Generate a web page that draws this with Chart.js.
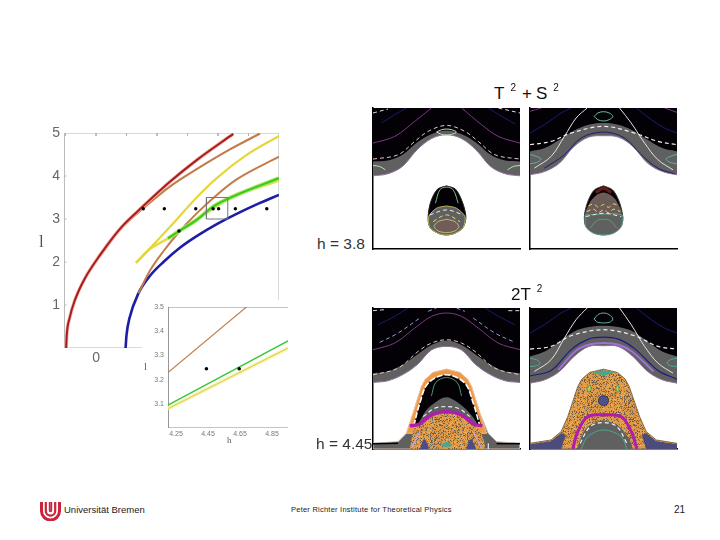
<!DOCTYPE html>
<html><head><meta charset="utf-8">
<script src="https://cdn.jsdelivr.net/npm/chart.js@4"></script>
<style>
html,body{margin:0;padding:0;background:#fff;width:720px;height:540px;overflow:hidden}
canvas{position:absolute;display:block}
.t{position:absolute;font-family:"Liberation Sans",Arial,sans-serif;color:#111;white-space:nowrap;line-height:1}
.t sup{font-size:10px;line-height:0;vertical-align:baseline;position:relative;top:-8px;margin:0 6px}
.s{font-family:"Liberation Serif",serif;color:#555}
</style></head><body>
<canvas id="main" style="left:30px;top:125px;width:255px;height:250px" width="255" height="250"></canvas>
<canvas id="inset" style="left:142px;top:300px;width:150px;height:150px;background:#fff" width="150" height="150"></canvas>
<canvas id="tl" style="left:372px;top:107px;width:149px;height:143px" width="149" height="143"></canvas>
<canvas id="tr" style="left:529px;top:107px;width:149px;height:143px" width="149" height="143"></canvas>
<canvas id="bl" style="left:372px;top:307px;width:149px;height:143px" width="149" height="143"></canvas>
<canvas id="br" style="left:529px;top:307px;width:149px;height:143px" width="149" height="143"></canvas>

<div class="t" style="left:494px;top:85px;font-size:17px">T<sup>2</sup>+<span style="margin-left:4px">S</span><sup>2</sup></div>
<div class="t" style="left:511px;top:286px;font-size:17px">2T<sup>2</sup></div>
<div class="t" style="left:317px;top:236px;font-size:15.5px;color:#333">h = 3.8</div>
<div class="t" style="left:316px;top:436px;font-size:15.5px;color:#333">h = 4.45</div>
<div class="t s" style="left:39px;top:233px;font-size:17px">l</div>
<div class="t s" style="left:144px;top:362px;font-size:10px">l</div>
<div class="t s" style="left:227px;top:436px;font-size:9px">h</div>
<div class="t" style="left:64px;top:505px;font-size:9.5px;color:#222">Universität Bremen</div>
<div class="t" style="left:291px;top:506px;font-size:7.5px;letter-spacing:.23px;color:#222">Peter Richter Institute for Theoretical Physics</div>
<div class="t" style="left:674px;top:505px;font-size:10px;color:#222">21</div>
<svg style="position:absolute;left:40px;top:501px" width="21" height="20" viewBox="0 0 21 20" fill="none" stroke="#c8243a">
<path d="M1.5 1V10A9 9 0 0 0 19.5 10V1" stroke-width="3"/><path d="M5.8 1V10A4.7 4.7 0 0 0 15.2 10V1" stroke-width="2.2"/><path d="M9.6 1V9.5A.9 .9 0 0 0 11.4 9.5V1" stroke-width="1.6"/>
</svg>

<script>
/* ---------- main parameter diagram, values in (h, l) ---------- */
const mainXRange=[-1.05,6], mainYRange=[0,5];
const mainXTicks=[0], mainYTicks=[1,2,3,4,5];
const mainTopMarks=[-1,0,1,2,3,4,5], mainLeftMarks=[1,2,3,4];
const redCurve=[[-.98,0],[-.96,.3],[-.865,.7],[-.7,1.1],[-.38,1.6],[.13,2.16],[.82,2.8],[1.55,3.3],[2.43,3.87],[3.3,4.37],[4.5,4.98]];
const upperBrown=[[.13,2.14],[.82,2.78],[1.55,3.25],[2.43,3.76],[3.3,4.16],[4.39,4.62],[5.38,4.99]];
const yellowUpper=[[1.31,1.98],[1.77,2.32],[2.43,2.82],[3.3,3.5],[3.96,3.95],[4.94,4.49],[6,4.93]];
const yellowLower=[[1.31,1.98],[1.77,2.3],[2.36,2.55],[3.3,2.98],[4.39,3.48],[6,3.89]];
const greenCurve=[[2.36,2.55],[2.7,2.71],[3.3,2.98],[3.85,3.29],[4.61,3.56],[6,3.95]];
const lowerBrown=[[1.39,1.27],[1.77,1.8],[2.21,2.25],[2.7,2.68],[3.3,3.13],[3.96,3.56],[4.61,3.92],[6,4.45]];
const blueCurve=[[.97,0],[1,.3],[1.1,.7],[1.39,1.27],[1.77,1.68],[2.21,2],[2.75,2.33],[3.3,2.6],[3.96,2.88],[4.61,3.12],[5.27,3.34],[6,3.56]];
const mainDots=[[1.55,3.24],[2.24,3.24],[3.27,3.24],[3.84,3.24],[4.02,3.24],[4.57,3.24],[5.6,3.24],[2.72,2.72]];
const zoomBox=[[3.62,3],[4.32,3],[4.32,3.5],[3.62,3.5],[3.62,3]];
const mainFrame=[[-1.05,0],[6,0],[6,5],[-1.05,5],[-1.05,0]];
/* ---------- inset ---------- */
const insetXRange=[4.2,4.95], insetYRange=[3,3.5];
const insetXTicks=[4.25,4.45,4.65,4.85], insetYTicks=[3.1,3.2,3.3,3.4,3.5];
const insetBrown=[[4.2,3.229],[4.69,3.5]];
const insetGreen=[[4.2,3.095],[4.95,3.36]];
const insetYellow=[[4.2,3.08],[4.95,3.33]];
const insetDots=[[4.44,3.245],[4.645,3.245]];
const insetFrame=[[4.95,3.5],[4.2,3.5],[4.2,3],[4.95,3]];
/* ---------- phase-space panels; arbitrary section units ---------- */
const secX=[25,69,113,157,201,245,289,333,377,421,465];
const tlLower=[228,222,200,150,116,105,116,150,200,222,228];
const tlUpper=[185,182,165,128,103,92,103,128,165,182,185];
const trLower=[225,215,190,140,112,108,112,140,190,215,225];
const trUpper=[155,145,120,92,75,70,75,92,120,145,155];
const blLower=[248,243,225,195,150,140,150,195,225,243,248];
const blUpper=[220,215,195,165,135,122,135,165,195,215,220];
const brLower=[250,240,215,170,140,138,140,170,215,240,250];
const brUpper=[170,155,125,95,82,78,82,95,125,155,170];

const tlWhiteA=[[25,40],[70,28]], tlWhiteB=[[400,25],[465,40]];
const tlBlueA=[[50,70],[90,45],[125,25]], tlBlueB=[[370,25],[410,50],[450,72]];
const tlPurpleA=[[25,130],[90,110],[150,65],[200,25]], tlPurpleB=[[290,25],[350,75],[400,110],[465,130]];
const tlPink=[[25,178],[100,165],[150,125],[190,95],[245,77],[300,95],[340,125],[390,165],[465,178]];
const tlLens=[[215,97],[230,90],[245,88],[260,90],[275,97],[260,104],[245,106],[230,104],[215,97]];
const tlSideA=[[25,197],[45,200],[62,210]], tlSideB=[[428,210],[445,200],[465,197]];
const tlIsleOuter=[[245,258],[272,268],[292,305],[303,350],[295,382],[270,400],[245,405],[220,400],[195,382],[190,350],[198,305],[218,268],[245,258]];
const tlIsleGray=[[245,318],[275,325],[300,350],[295,382],[270,400],[245,405],[220,400],[195,382],[192,350],[215,325],[245,318]];
const tlIsleCore=[[245,358],[270,365],[282,380],[270,393],[245,398],[220,393],[208,380],[220,365],[245,358]];
const tlIsleDash=[[195,345],[245,330],[295,345]], tlIsleDash2=[[205,365],[245,345],[285,365]];
const tlIsleArc=[[212,310],[225,270],[245,262],[265,270],[280,310]];

const trWhiteA=[[38,205],[88,170],[128,110],[163,55],[196,25]], trWhiteB=[[293,25],[328,70],[368,130],[408,180],[453,210]];
const trDash=[[25,135],[88,125],[148,100],[245,80],[338,100],[408,125],[465,135]];
const trBlueA=[[25,100],[68,75],[118,40],[148,25]], trBlueB=[[343,25],[388,60],[428,85],[465,100]];
const trBlueLow=[[68,205],[128,165],[178,115],[245,97],[308,115],[358,165],[408,205],[458,222]];
const trLens=[[217,50],[228,40],[245,36],[262,40],[273,50],[262,60],[245,64],[228,60],[217,50]];
const trSideA=[[25,164],[45,170],[58,178],[45,188],[25,192]], trSideB=[[465,164],[445,170],[432,178],[445,188],[465,192]];
const trPurpleA=[[25,35],[58,25]], trPurpleB=[[428,25],[465,38]];
const trIsleOuter=[[245,258],[272,270],[290,300],[302,345],[298,380],[275,398],[245,405],[215,398],[192,380],[188,345],[200,300],[218,270],[245,258]];
const trIsleDome=[[205,305],[225,285],[245,278],[265,285],[285,305],[298,345],[192,345],[205,305]];
const trIsleLow=[[190,345],[300,345],[298,380],[275,400],[245,405],[215,400],[192,380],[190,345]];
const trIsleTop=[[222,278],[245,265],[268,278]];
const trZigA=[[200,318],[215,312],[230,322],[245,314],[260,322],[275,312],[290,318]];
const trZigB=[[195,335],[215,328],[230,338],[245,330],[260,338],[275,328],[295,335]];
const trIsleDash=[[192,350],[245,340],[298,350]], trIsleGreen=[[205,385],[225,362],[245,358],[265,362],[285,385]];

const blPurple=[[25,150],[90,130],[150,85],[200,50],[245,40],[290,50],[340,85],[400,130],[465,150]];
const blBlueA=[[40,75],[90,50],[130,25]], blBlueB=[[360,25],[400,50],[450,75]];
const blPaleA=[[45,128],[100,100],[165,55]], blPaleB=[[325,55],[390,100],[450,128]], blPaleC=[[190,35],[215,25]], blPaleD=[[275,25],[300,35]];
const blWhiteA=[[25,33],[60,30]], blWhiteB=[[430,33],[465,33]];
const blPink=[[25,225],[100,205],[160,155],[200,130],[245,120],[290,130],[330,155],[390,205],[465,225]];
const blMound=[[25,430],[100,425],[125,400],[145,340],[170,260],[182,238],[205,218],[245,208],[285,218],[308,238],[320,260],[345,340],[370,400],[395,425],[465,430],[465,447],[25,447],[25,430]];
const blRing=[[125,400],[145,340],[170,260],[182,238],[205,218],[245,208],[285,218],[308,238],[320,260],[345,340],[365,400],[125,400]];
const blArch=[[147,378],[165,310],[190,250],[245,225],[300,250],[325,310],[345,378],[245,340],[147,378]];
const blInner=[[160,372],[190,325],[245,292],[300,325],[335,372],[245,340],[160,372]];
const blGreenArc=[[200,288],[213,248],[245,233],[277,248],[290,288]];
const blInnerDash=[[175,350],[210,325],[245,320],[280,325],[315,350]];
const blSpeck=[[135,447],[150,385],[200,345],[245,335],[290,345],[340,385],[355,447],[135,447]];
const blMagenta=[[135,378],[165,372],[200,345],[245,335],[290,345],[325,372],[352,378]];
const blSpotA=[[165,447],[178,418],[192,447],[165,447]], blSpotB=[[304,447],[318,418],[332,447],[304,447]];
const blLilacA=[[140,445],[165,395]], blLilacB=[[325,395],[350,445]];
const blBaseA=[[25,431],[100,430]], blBaseB=[[395,431],[465,431]], blTick=[[370,430],[370,447]];
const blCross=[[228,435],[245,425],[262,435],[245,442],[228,435]];

const brWhiteA=[[38,215],[88,180],[128,115],[163,60],[196,25]], brWhiteB=[[293,25],[328,75],[368,140],[408,190],[453,220]];
const brDash=[[25,148],[88,140],[148,108],[245,90],[338,108],[408,140],[465,148]];
const brBlueLow=[[25,228],[88,212],[150,148],[200,118],[245,112],[290,118],[340,148],[408,212],[465,238]];
const brViolet=[[110,210],[160,155],[200,135],[245,130],[290,135],[330,155],[395,215]];
const brLens=[[217,58],[228,45],[245,40],[262,45],[273,58],[262,68],[228,68],[217,58]];
const brSideA=[[25,175],[45,180],[55,190],[45,198],[25,200]], brSideB=[[465,175],[445,180],[435,190],[445,198],[465,200]];
const brMound=[[25,430],[88,420],[118,395],[138,350],[168,260],[180,238],[203,218],[245,208],[287,218],[310,238],[322,260],[353,350],[373,395],[403,420],[465,430],[465,447],[25,447],[25,430]];
const brCornerA=[[25,433],[88,424],[118,400],[132,405],[118,447],[25,447],[25,433]];
const brCornerB=[[465,433],[403,424],[373,400],[360,405],[372,447],[465,447],[465,433]];
const brArch=[[153,447],[168,395],[198,350],[245,345],[298,350],[328,395],[345,447]];
const brDome=[[165,447],[193,385],[245,362],[298,385],[328,447],[165,447]];
const brDomeDash=[[175,430],[205,380],[245,368],[285,380],[315,430]];
const brDomeArc=[[178,447],[198,410],[245,390],[298,410],[315,447]];
const brCircle=[[245,287],[256,291],[260,302],[256,313],[245,317],[234,313],[230,302],[234,291],[245,287]];
const brCircleIn=[[245,295],[251,302],[245,309],[239,302],[245,295]];
const brSmallA=[[203,255],[208,265],[201,277],[196,267],[203,255]], brSmallB=[[287,255],[292,267],[287,277],[282,265],[287,255]];
const brTop=[[213,218],[245,212],[277,218],[245,226],[213,218]];

/* ---------- helpers ---------- */
Chart.defaults.animation=false;
Chart.defaults.font.family='"Liberation Sans",Arial,sans-serif';
const pairs=a=>a.map(p=>({x:p[0],y:p[1]}));
const onGrid=a=>a.map((y,i)=>({x:secX[i],y}));
const noPad=s=>{s.paddingTop=s.paddingBottom=s.paddingLeft=s.paddingRight=0};
function ds(pts,o){return Object.assign({type:'scatter',showLine:true,data:pairs(pts),pointRadius:0,borderWidth:1,borderColor:'#000',tension:0,fill:false},o)}
function dots(pts,r){return {type:'scatter',showLine:false,data:pairs(pts),pointRadius:r,pointBackgroundColor:'#000',pointBorderWidth:0}}
function layered(list){return list.map((d,i)=>Object.assign(d,{order:list.length-i}))}
function marks(along,fixed,len,isX){
  const out=[];along.forEach(v=>{
    if(isX)out.push({x:v,y:fixed},{x:v,y:fixed-len},{x:NaN,y:NaN});
    else out.push({x:fixed,y:v},{x:fixed+len,y:v},{x:NaN,y:NaN});});
  return {type:'scatter',showLine:true,spanGaps:false,data:out,pointRadius:0,borderWidth:1,borderColor:'#b4b4b4',fill:false};
}

/* speckle texture used as a fill style */
function speckle(){
  const c=document.createElement('canvas');c.width=c.height=37;const g=c.getContext('2d');
  g.fillStyle='#dc9a48';g.fillRect(0,0,37,37);
  let s=12345;const cols=['#6a5a48','#b37a3a','#f0ad55','#7a6a5a','#dc9a48'];
  for(let y=0;y<37;y++)for(let x=0;x<37;x++){s=(s*1103515245+12345)&0x7fffffff;const k=(s>>16)%10;
    if(k<5){g.fillStyle=cols[k];g.fillRect(x,y,1,1);}}
  return g.createPattern(c,'repeat');
}
const SPECK=speckle();

const GRAY='#606060',BLACK='#030006',EDGE='#8d7396',DASH=[4,3];
function band(lower,upper){return [
  {type:'scatter',showLine:true,data:onGrid(lower),pointRadius:0,tension:.35,borderWidth:1,borderColor:EDGE,backgroundColor:GRAY,fill:{value:25}},
  {type:'scatter',showLine:true,data:onGrid(upper),pointRadius:0,tension:.35,borderWidth:0,backgroundColor:BLACK,fill:{value:25}}
]}
const line=(p,c,w,extra)=>ds(p,Object.assign({borderColor:c,borderWidth:w||1,tension:.35},extra||{}));
const dash=(p,c,w)=>line(p,c,w,{borderDash:DASH});
const poly=(p,f,c,w,t)=>ds(p,{backgroundColor:f,borderColor:c||f,borderWidth:w==null?0:w,fill:'shape',tension:t==null?.3:t});

function panel(id,list){
  new Chart(document.getElementById(id),{data:{datasets:layered(list)},options:{
    responsive:false,devicePixelRatio:1,layout:{padding:{top:1,right:1}},
    plugins:{legend:{display:false},tooltip:{enabled:false},title:{display:false}},
    scales:{
      x:{type:'linear',min:25,max:465,ticks:{display:false},grid:{display:false,drawTicks:false},border:{display:true,color:'#000',width:1.5},afterFit:s=>{s.height=1}},
      y:{type:'linear',min:25,max:447,reverse:true,ticks:{display:false},grid:{display:false,drawTicks:false},border:{display:true,color:'#000',width:1.5},afterFit:s=>{s.width=1}}
    }}});
}

/* ---------- main chart ---------- */
function curve(p,c,w){return ds(p,{borderColor:c,borderWidth:w,tension:.4,cubicInterpolationMode:'monotone'})}
new Chart(document.getElementById('main'),{data:{datasets:layered([
  ds(mainFrame,{borderColor:'#b4b4b4',borderWidth:1}),
  marks(mainTopMarks,5,.07,true),marks(mainLeftMarks,-1.05,.08,false),
  curve(blueCurve,'#1d1da6',2.6),
  curve(lowerBrown,'#c27c4a',2),
  curve(yellowLower,'#e9dc4a',2.6),
  curve(greenCurve,'#a6e860',4),
  curve(greenCurve,'#38c81e',2),
  curve(yellowUpper,'#e6d63a',2.2),
  curve(upperBrown,'#c27c4a',2.2),
  curve(redCurve,'#f4b0a0',3.5),
  curve(redCurve,'#a81c22',2),
  ds(zoomBox,{borderColor:'#777',borderWidth:1}),
  dots(mainDots,1.7)
])},options:{responsive:false,devicePixelRatio:1,layout:{padding:{top:8,right:6}},
  plugins:{legend:{display:false},tooltip:{enabled:false}},
  scales:{
    x:{type:'linear',min:mainXRange[0],max:mainXRange[1],grid:{display:false,drawTicks:false},border:{display:false},
      afterBuildTicks:s=>{s.ticks=mainXTicks.map(v=>({value:v}))},
      ticks:{color:'#666',font:{size:14},padding:2,maxRotation:0,autoSkip:false},afterFit:s=>{s.height=27;noPad(s)}},
    y:{type:'linear',min:mainYRange[0],max:mainYRange[1],grid:{display:false,drawTicks:false},border:{display:false},
      afterBuildTicks:s=>{s.ticks=mainYTicks.map(v=>({value:v}))},
      ticks:{color:'#666',font:{size:14},padding:4,autoSkip:false},afterFit:s=>{s.width=34;noPad(s)}}
  }}});

/* ---------- inset ---------- */
new Chart(document.getElementById('inset'),{data:{datasets:layered([
  ds(insetFrame,{borderColor:'#8a8a8a',borderWidth:1}),
  ds(insetBrown,{borderColor:'#c47f4e',borderWidth:1.2}),
  ds(insetYellow,{borderColor:'#f8f6cc',borderWidth:4}),
  ds(insetYellow,{borderColor:'#e2d24a',borderWidth:1.2}),
  ds(insetGreen,{borderColor:'#3cc83c',borderWidth:1.4}),
  dots(insetDots,1.8)
])},options:{responsive:false,devicePixelRatio:1,layout:{padding:{top:7,right:3}},
  plugins:{legend:{display:false},tooltip:{enabled:false}},
  scales:{
    x:{type:'linear',min:insetXRange[0],max:insetXRange[1],grid:{display:false,drawTicks:false},border:{display:false},
      afterBuildTicks:s=>{s.ticks=insetXTicks.map(v=>({value:v}))},
      ticks:{color:'#777',font:{size:7},padding:2,maxRotation:0,autoSkip:false,callback:v=>v.toFixed(2)},afterFit:s=>{s.height=22;noPad(s)}},
    y:{type:'linear',min:insetYRange[0],max:insetYRange[1],grid:{display:false,drawTicks:false},border:{display:false},
      afterBuildTicks:s=>{s.ticks=insetYTicks.map(v=>({value:v}))},
      ticks:{color:'#777',font:{size:7},padding:4,autoSkip:false,callback:v=>v.toFixed(1)},afterFit:s=>{s.width=26;noPad(s)}}
  }}});

/* ---------- panels ---------- */
panel('tl',[...band(tlLower,tlUpper),
  dash(tlWhiteA,'#ddd'),dash(tlWhiteB,'#ddd'),line(tlBlueA,'#1c1c70'),line(tlBlueB,'#1c1c70'),
  line(tlPurpleA,'#7a3a80'),line(tlPurpleB,'#7a3a80'),dash(tlPink,'#e8c8c0'),line(tlLens,'#b8e0b8',1),
  line(tlSideA,'#b8e0b8'),line(tlSideB,'#b8e0b8'),
  poly(tlIsleOuter,BLACK,'#26261a',1),poly(tlIsleGray,GRAY,'#b8b460',1),poly(tlIsleCore,'#705c58','#d8d070',.8),
  dash(tlIsleDash,'#eee'),dash(tlIsleDash2,'#e8e070'),line(tlIsleArc,'#7ab880')]);

panel('tr',[...band(trLower,trUpper),
  line(trWhiteA,'#e4e4e4'),line(trWhiteB,'#e4e4e4'),dash(trDash,'#f0f0f0',1.2),
  line(trBlueA,'#1c1c70'),line(trBlueB,'#1c1c70'),line(trBlueLow,'#1c1c70'),
  line(trLens,'#70c0a0'),line(trSideA,'#60b0a0'),line(trSideB,'#60b0a0'),line(trPurpleA,'#7a3a80'),line(trPurpleB,'#7a3a80'),
  poly(trIsleOuter,BLACK,'#3a3a3a',1),poly(trIsleDome,'#6b5c58'),poly(trIsleLow,GRAY,'#5aa890',1),
  line(trIsleTop,'#6a1a14',3),dash(trZigA,'#ece070'),dash(trZigB,'#ece070'),dash(trIsleDash,'#eee'),line(trIsleGreen,'#5aa070')]);

panel('bl',[...band(blLower,blUpper),
  line(blPurple,'#7a3a80'),line(blBlueA,'#1c1c70'),line(blBlueB,'#1c1c70'),
  dash(blPaleA,'#8c9ccc'),dash(blPaleB,'#8c9ccc'),dash(blPaleC,'#8c9ccc'),dash(blPaleD,'#8c9ccc'),dash(blWhiteA,'#ddd'),dash(blWhiteB,'#ddd'),
  dash(blPink,'#e8c8c0'),
  poly(blMound,GRAY,'#cdb8a8',1,0),poly(blRing,'#ec9a48','#f0c090',1,0),poly(blArch,BLACK),
  line(blArch.slice(0,7),'#fff',1.6,{borderDash:[6,2]}),poly(blInner,GRAY),dash(blInnerDash,'#eee',1.2),line(blGreenArc,'#4a9a70'),
  poly(blSpeck,SPECK,null,0),poly(blSpotA,'#4c4c86'),poly(blSpotB,'#4c4c86'),line(blMagenta,'#b01cb0',3.4),
  line(blLilacA,'#c8a0e0',1.2),line(blLilacB,'#c8a0e0',1.2),line(blBaseA,'#000',1.5),line(blBaseB,'#000',1.5),line(blTick,'#fff',1),poly(blCross,'#4aa890')]);

panel('br',[...band(brLower,brUpper),
  line(brWhiteA,'#e4e4e4'),line(brWhiteB,'#e4e4e4'),dash(brDash,'#f0f0f0',1.2),
  line(trBlueA,'#1c1c70'),line(trBlueB,'#1c1c70'),line(brBlueLow,'#1c1c80',1.2),line(brViolet,'#a070d8',2),
  line(brLens,'#60b8a0'),line(brSideA,'#50a8a0'),line(brSideB,'#50a8a0'),
  poly(brMound,SPECK,'#8a6a44',1,0),poly(brCornerA,'#4c4c7c',null,0,0),poly(brCornerB,'#4c4c7c',null,0,0),
  poly(brDome,GRAY,null,0),line(brArch,'#b01cb0',3),dash(brDomeDash,'#f4f4f4',1.2),line(brDomeArc,'#50a890'),
  poly(brCircle,'#50508c','#3a3a4a',1),poly(brSmallA,'#c8c848','#4a9a60',1),poly(brSmallB,'#c8c848','#4a9a60',1),poly(brTop,'#44a890')]);
</script>
</body></html>
